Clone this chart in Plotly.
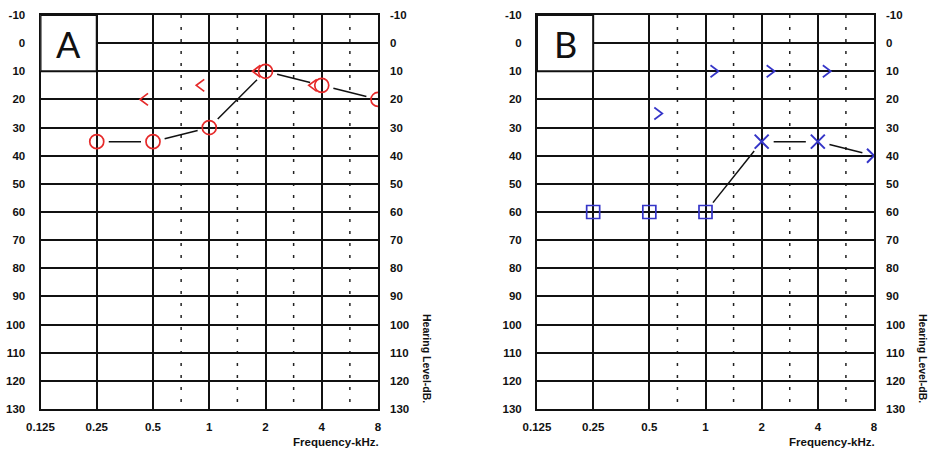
import math
import plotly.graph_objects as go

# ---------------- data ----------------
freq_ticks = [0.125, 0.25, 0.5, 1, 2, 4, 8]
freq_tick_labels = ["0.125", "0.25", "0.5", "1", "2", "4", "8"]
db_ticks = list(range(-10, 131, 10))
db_tick_labels = [str(v) for v in db_ticks]

# Panel A (right ear, red)
a_air_freq = [0.25, 0.5, 1, 2, 4, 8]
a_air_db = [35, 35, 30, 10, 15, 20]
a_bone_freq = [0.5, 1, 2, 4]
a_bone_db = [20, 15, 10, 15]

# Panel B (left ear, blue)
b_masked_freq = [0.25, 0.5, 1]
b_masked_db = [60, 60, 60]
b_air_freq = [2, 4, 8]
b_air_db = [35, 35, 40]
b_bone_freq = [0.5, 1, 2, 4]
b_bone_db = [25, 10, 10, 10]

# ---------------- geometry ----------------
W, H = 937, 453
A_X0, A_X1 = 40.5, 378.0
B_X0, B_X1 = 537.0, 874.0
Y_TOP, Y_BOT = 15.0, 409.0
F_MIN, F_MAX = 0.125, 8.0
DB_MIN, DB_MAX = -10, 130
N_OCT = math.log2(F_MAX / F_MIN)

RED = "#e62a2a"
BLUE = "#3535c8"
FONT = "Liberation Sans, Arial, sans-serif"
INK = "#111111"


def to_px(f, db, x0, x1):
    px = x0 + math.log2(f / F_MIN) / N_OCT * (x1 - x0)
    py = Y_TOP + (db - DB_MIN) / (DB_MAX - DB_MIN) * (Y_BOT - Y_TOP)
    return px, py


def from_px(px, py, x0, x1):
    f = F_MIN * 2 ** ((px - x0) / (x1 - x0) * N_OCT)
    db = (py - Y_TOP) / (Y_BOT - Y_TOP) * (DB_MAX - DB_MIN) + DB_MIN
    return f, db


def gapped_segments(freqs, dbs, x0, x1, gap=12):
    xs, ys = [], []
    for i in range(len(freqs) - 1):
        ax, ay = to_px(freqs[i], dbs[i], x0, x1)
        bx, by = to_px(freqs[i + 1], dbs[i + 1], x0, x1)
        d = math.hypot(bx - ax, by - ay)
        ux, uy = (bx - ax) / d, (by - ay) / d
        p = from_px(ax + ux * gap, ay + uy * gap, x0, x1)
        q = from_px(bx - ux * gap, by - uy * gap, x0, x1)
        xs += [p[0], q[0], None]
        ys += [p[1], q[1], None]
    return xs, ys


def chevrons(freqs, dbs, x0, x1, side, off=9, hw=4, hh=6):
    # side=-1 -> "<" left of point ; side=+1 -> ">" right of point
    xs, ys = [], []
    for f, db in zip(freqs, dbs):
        px, py = to_px(f, db, x0, x1)
        cx = px + side * off
        pts = [(cx - side * hw, py - hh), (cx + side * hw, py), (cx - side * hw, py + hh)]
        for (qx, qy) in pts:
            fx, fy = from_px(qx, qy, x0, x1)
            xs.append(fx)
            ys.append(fy)
        xs.append(None)
        ys.append(None)
    return xs, ys


fig = go.Figure()

# ---- Panel A ----
lx, ly = gapped_segments(a_air_freq, a_air_db, A_X0, A_X1)
fig.add_trace(go.Scatter(x=lx, y=ly, mode="lines", line=dict(color=INK, width=1.5),
                         xaxis="x", yaxis="y", hoverinfo="skip", showlegend=False))
fig.add_trace(go.Scatter(x=a_air_freq, y=a_air_db, mode="markers",
                         marker=dict(symbol="circle-open", size=14, color=RED, line=dict(width=1.7, color=RED)),
                         xaxis="x", yaxis="y", showlegend=False))
cx_, cy_ = chevrons(a_bone_freq, a_bone_db, A_X0, A_X1, -1)
fig.add_trace(go.Scatter(x=cx_, y=cy_, mode="lines", line=dict(color=RED, width=1.7),
                         xaxis="x", yaxis="y", showlegend=False))

# ---- Panel B ----
conn_f = [b_masked_freq[-1]] + b_air_freq
conn_d = [b_masked_db[-1]] + b_air_db
lx, ly = gapped_segments(conn_f, conn_d, B_X0, B_X1)
fig.add_trace(go.Scatter(x=lx, y=ly, mode="lines", line=dict(color=INK, width=1.5),
                         xaxis="x2", yaxis="y3", hoverinfo="skip", showlegend=False))
fig.add_trace(go.Scatter(x=b_masked_freq, y=b_masked_db, mode="markers",
                         marker=dict(symbol="square-open", size=13, color=BLUE, line=dict(width=1.7, color=BLUE)),
                         xaxis="x2", yaxis="y3", showlegend=False))
fig.add_trace(go.Scatter(x=b_air_freq, y=b_air_db, mode="markers",
                         marker=dict(symbol="x-thin-open", size=14, color=BLUE, line=dict(width=2, color=BLUE)),
                         xaxis="x2", yaxis="y3", showlegend=False))
cx_, cy_ = chevrons(b_bone_freq, b_bone_db, B_X0, B_X1, +1)
fig.add_trace(go.Scatter(x=cx_, y=cy_, mode="lines", line=dict(color=BLUE, width=1.7),
                         xaxis="x2", yaxis="y3", showlegend=False))

tickfont = dict(family=FONT, size=11.5, color=INK, weight="bold")
ydom = [(H - Y_BOT) / H, (H - Y_TOP) / H]


def xaxis_cfg(x0, x1, anchor):
    return dict(type="log", range=[math.log10(F_MIN), math.log10(F_MAX)], domain=[x0 / W, x1 / W],
                anchor=anchor, tickmode="array", tickvals=freq_ticks, ticktext=freq_tick_labels,
                showgrid=True, gridcolor=INK, gridwidth=1.5, showline=True, linecolor=INK,
                linewidth=2, mirror=True, ticks="", ticklabelstandoff=6, zeroline=False,
                tickfont=tickfont, automargin=False, fixedrange=True)


def yaxis_cfg(anchor, right=False, overlay=None):
    d = dict(range=[DB_MAX, DB_MIN], domain=ydom, anchor=anchor, tickmode="array",
             tickvals=db_ticks, ticktext=db_tick_labels, ticks="", ticklabelstandoff=11,
             zeroline=False, tickfont=tickfont, automargin=False, fixedrange=True)
    if right:
        d.update(side="right", overlaying=overlay, showgrid=False, showline=False)
    else:
        d.update(showgrid=True, gridcolor=INK, gridwidth=1.5, showline=True,
                 linecolor=INK, linewidth=2, mirror=True)
    return d


shapes = []
annotations = []
for xref, yref, x0, x1, label in [("x", "y", A_X0, A_X1, "A"), ("x2", "y3", B_X0, B_X1, "B")]:
    # half-octave dotted lines (from 0.5 kHz upward)
    for i in range(2, len(freq_ticks) - 1):
        fm = math.sqrt(freq_ticks[i] * freq_ticks[i + 1])
        shapes.append(dict(type="line", xref=xref, yref=yref, x0=fm, x1=fm, y0=DB_MIN, y1=DB_MAX,
                           line=dict(color="#222222", width=1.5, dash="3px,9px"), layer="below"))
    # label box
    shapes.append(dict(type="rect", xref=xref, yref=yref, x0=freq_ticks[0], x1=freq_ticks[1],
                       y0=DB_MIN, y1=DB_MIN + 20, fillcolor="white",
                       line=dict(color=INK, width=2), layer="above"))
    bx, by = to_px(math.sqrt(freq_ticks[0] * freq_ticks[1]), DB_MIN + 10, x0, x1)
    annotations.append(dict(text=label, xref="paper", yref="paper", x=bx / W, y=1 - (by + 1) / H,
                            xanchor="center", yanchor="middle", showarrow=False,
                            font=dict(family="Lato, Open Sans, sans-serif", size=36, color=INK)))
    annotations.append(dict(text="Frequency-kHz.", xref="paper", yref="paper", x=(x1 + 3) / W,
                            y=1 - 442 / H, xanchor="right", yanchor="middle", showarrow=False,
                            font=dict(family=FONT, size=11.5, color=INK, weight="bold")))
    annotations.append(dict(text="Hearing Level-dB.", xref="paper", yref="paper", x=(x1 + 49) / W,
                            y=1 - 358 / H, xanchor="center", yanchor="middle", showarrow=False,
                            textangle=90, font=dict(family=FONT, size=10.5, color=INK, weight="bold")))

fig.update_layout(
    width=W, height=H, margin=dict(l=0, r=0, t=0, b=0),
    paper_bgcolor="white", plot_bgcolor="white", showlegend=False,
    xaxis=xaxis_cfg(A_X0, A_X1, "y"),
    yaxis=yaxis_cfg("x"),
    yaxis2=yaxis_cfg("x", right=True, overlay="y"),
    xaxis2=xaxis_cfg(B_X0, B_X1, "y3"),
    yaxis3=yaxis_cfg("x2"),
    yaxis4=yaxis_cfg("x2", right=True, overlay="y3"),
    shapes=shapes, annotations=annotations,
)

# dummy traces so right-side axes render
fig.add_trace(go.Scatter(x=[None], y=[None], xaxis="x", yaxis="y2", showlegend=False, hoverinfo="skip"))
fig.add_trace(go.Scatter(x=[None], y=[None], xaxis="x2", yaxis="y4", showlegend=False, hoverinfo="skip"))

fig.write_html("out.html")
